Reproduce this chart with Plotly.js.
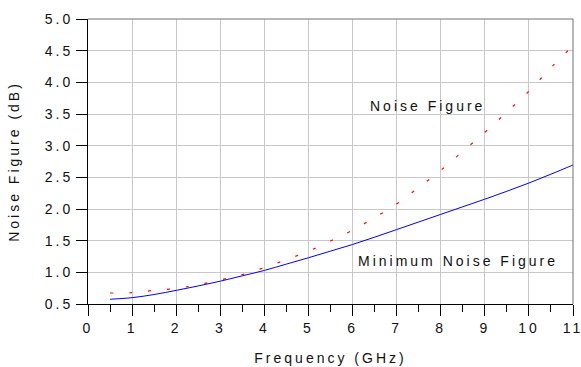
<!DOCTYPE html>
<html>
<head>
<meta charset="utf-8">
<script src="https://cdn.plot.ly/plotly-3.0.1.min.js"></script>
<style>
  html, body { margin: 0; padding: 0; background: #fff; }
  #chart { width: 581px; height: 367px; }
  .main-svg text { letter-spacing: 3px; }
</style>
</head>
<body>
<div id="chart"></div>
<script>
const freq = [0.5, 1.0, 1.5, 2.0, 2.5, 3.0, 3.5, 4.0, 4.5, 5.0, 5.5, 6.0, 6.5, 7.0, 7.5, 8.0, 8.5, 9.0, 9.5, 10.0, 10.5, 11.0];
const noiseFigure = [0.674, 0.68, 0.715, 0.745, 0.805, 0.88, 0.965, 1.075, 1.20, 1.335, 1.495, 1.665, 1.865, 2.08, 2.34, 2.61, 2.91, 3.21, 3.53, 3.86, 4.23, 4.58];
const minNoiseFigure = [0.575, 0.60, 0.65, 0.715, 0.785, 0.86, 0.945, 1.03, 1.13, 1.23, 1.335, 1.44, 1.555, 1.675, 1.795, 1.915, 2.035, 2.155, 2.28, 2.41, 2.55, 2.695];
const labels = ["Noise Figure", "Minimum Noise Figure"];

const font = {family: "Liberation Sans, Arial, sans-serif", size: 14, color: "#111111"};

const traces = [
  {x: freq, y: noiseFigure, type: "scatter", mode: "lines", name: labels[0],
   line: {color: "#ff0000", width: 1.2, dash: "3px,16px", shape: "spline"}},
  {x: freq, y: minNoiseFigure, type: "scatter", mode: "lines", name: labels[1],
   line: {color: "#0000ff", width: 1, shape: "spline"}}
];

const layout = {
  width: 581, height: 367,
  margin: {l: 88, r: 8, t: 19, b: 63},
  paper_bgcolor: "#ffffff", plot_bgcolor: "#ffffff",
  showlegend: false,
  font: font,
  xaxis: {
    range: [0, 11], dtick: 1, tick0: 0,
    showgrid: true, gridcolor: "#c8c8c8", gridwidth: 1,
    zeroline: false, showline: true, linecolor: "#000000", linewidth: 1,
    ticks: "outside", ticklen: 11, tickcolor: "#000000", tickwidth: 1,
    minor: {dtick: 0.5, ticks: "outside", ticklen: 7, tickcolor: "#000000", showgrid: false},
    tickfont: font,
    title: {text: "Frequency (GHz)", font: font, standoff: 18}
  },
  yaxis: {
    range: [0.5, 5], dtick: 0.5, tick0: 0.5, tickformat: ".1f",
    showgrid: true, gridcolor: "#c8c8c8", gridwidth: 1,
    zeroline: false, showline: true, linecolor: "#000000", linewidth: 1,
    ticks: "outside", ticklen: 11, tickcolor: "#000000", tickwidth: 1,
    tickfont: font,
    title: {text: "Noise Figure (dB)", font: font, standoff: 30}
  },
  shapes: [
    {type: "line", xref: "paper", yref: "paper", x0: 0, x1: 1, y0: 1, y1: 1, line: {color: "#707070", width: 1}},
    {type: "line", xref: "paper", yref: "paper", x0: 1, x1: 1, y0: 0, y1: 1, line: {color: "#707070", width: 1}}
  ],
  annotations: [
    {x: 7.7, y: 3.62, xref: "x", yref: "y", text: labels[0], showarrow: false, font: font},
    {x: 8.4, y: 1.18, xref: "x", yref: "y", text: labels[1], showarrow: false, font: font}
  ]
};

Plotly.newPlot("chart", traces, layout, {staticPlot: true, displayModeBar: false});
</script>
</body>
</html>
